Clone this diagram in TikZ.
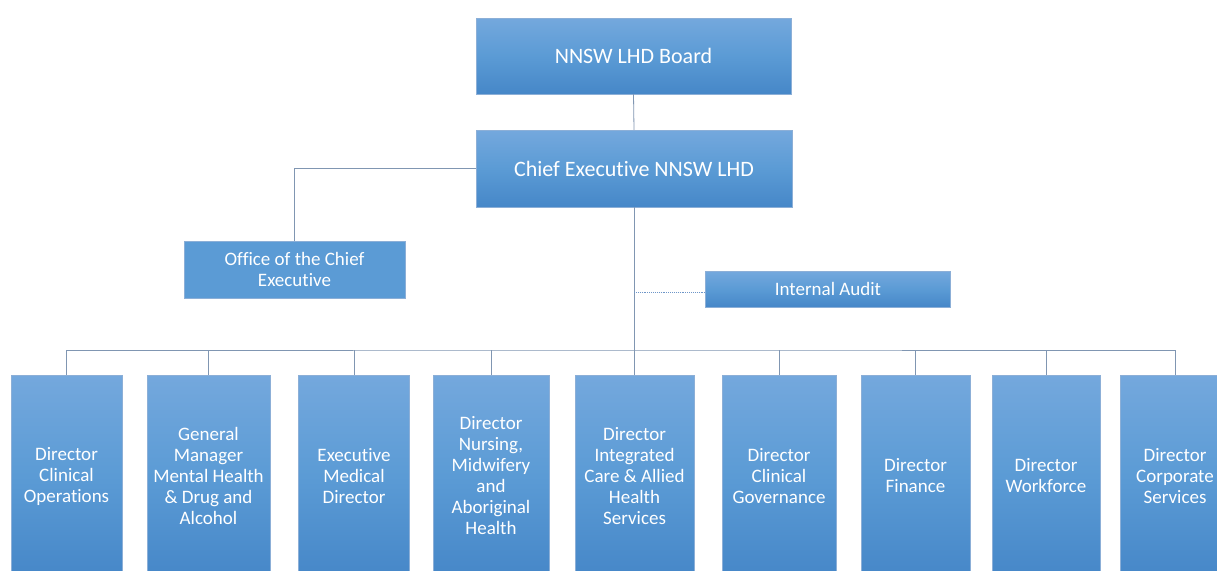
\documentclass[tikz,border=0pt]{standalone}
\usepackage{fontspec}
\setmainfont{Carlito}[Ligatures={NoCommon}]
\definecolor{boxtop}{RGB}{116,168,221}
\definecolor{boxmid}{RGB}{91,155,213}
\definecolor{boxbot}{RGB}{70,135,200}
\definecolor{linec}{RGB}{128,150,178}
\definecolor{edgec}{RGB}{140,175,215}
\definecolor{dotc}{RGB}{110,150,200}
\tikzset{
  orgbox/.style={rectangle, inner sep=0pt, text=white, align=center,
    top color=boxtop, bottom color=boxbot, middle color=boxmid, draw=edgec, line width=0.4pt},
  flatbox/.style={rectangle, inner sep=0pt, text=white, align=center,
    fill=boxmid, draw=edgec, line width=0.4pt},
  bigtext/.style={font=\fontsize{22}{26}\selectfont},
  smalltext/.style={font=\fontsize{19}{21}\selectfont},
  conn/.style={draw=linec, line width=0.8pt},
  dconn/.style={draw=dotc, line width=0.9pt, densely dotted},
}
\begin{document}
\begin{tikzpicture}[x=1pt,y=-1pt]
\clip (0,0) rectangle (1217,570);
\fill[white] (0,0) rectangle (1217,570);
% top
\node[orgbox,bigtext,minimum width=315pt,minimum height=76pt] (board) at (633.5,56) {NNSW LHD Board};
\node[orgbox,bigtext,minimum width=316pt,minimum height=77pt] (ce) at (634,168.5) {Chief Executive NNSW LHD};
\node[flatbox,smalltext,minimum width=221pt,minimum height=57pt] (office) at (294.5,269.5) {Office of the Chief\\Executive};
\node[orgbox,smalltext,minimum width=245pt,minimum height=36pt] (audit) at (828,289) {Internal Audit};
% bottom
\node[orgbox,smalltext,minimum width=111pt,minimum height=202pt] (b1) at (66.5,476) {Director\\Clinical\\Operations};
\node[orgbox,smalltext,minimum width=123pt,minimum height=202pt] (b2) at (208.5,476) {General\\Manager\\Mental Health\\\& Drug and\\Alcohol};
\node[orgbox,smalltext,minimum width=111pt,minimum height=202pt] (b3) at (354,476) {Executive\\Medical\\Director};
\node[orgbox,smalltext,minimum width=116pt,minimum height=202pt] (b4) at (491,476) {Director\\Nursing,\\Midwifery\\and\\Aboriginal\\Health};
\node[orgbox,smalltext,minimum width=119pt,minimum height=202pt] (b5) at (634.5,476) {Director\\Integrated\\Care \& Allied\\Health\\Services};
\node[orgbox,smalltext,minimum width=114pt,minimum height=202pt] (b6) at (779,476) {Director\\Clinical\\Governance};
\node[orgbox,smalltext,minimum width=109pt,minimum height=202pt] (b7) at (915.5,476) {Director\\Finance};
\node[orgbox,smalltext,minimum width=108pt,minimum height=202pt] (b8) at (1046,476) {Director\\Workforce};
\node[orgbox,smalltext,minimum width=110pt,minimum height=202pt] (b9) at (1175,476) {Director\\Corporate\\Services};
% connectors
\coordinate (bus) at (634,350);
\coordinate (dash) at (634,292);
\draw[conn] (board.south) -- (ce.north);
\draw[conn] (ce.west) -| (office.north);
\draw[conn] (ce.south) -- (bus);
\draw[dconn] (dash) -- (audit.west |- dash);
\draw[conn] (b1.north) |- (bus) -| (b9.north);
\foreach \b in {b2,b3,b4,b5,b6,b7,b8}{
  \draw[conn] (\b.north) -- (\b.north |- bus);
}
\end{tikzpicture}
\end{document}
